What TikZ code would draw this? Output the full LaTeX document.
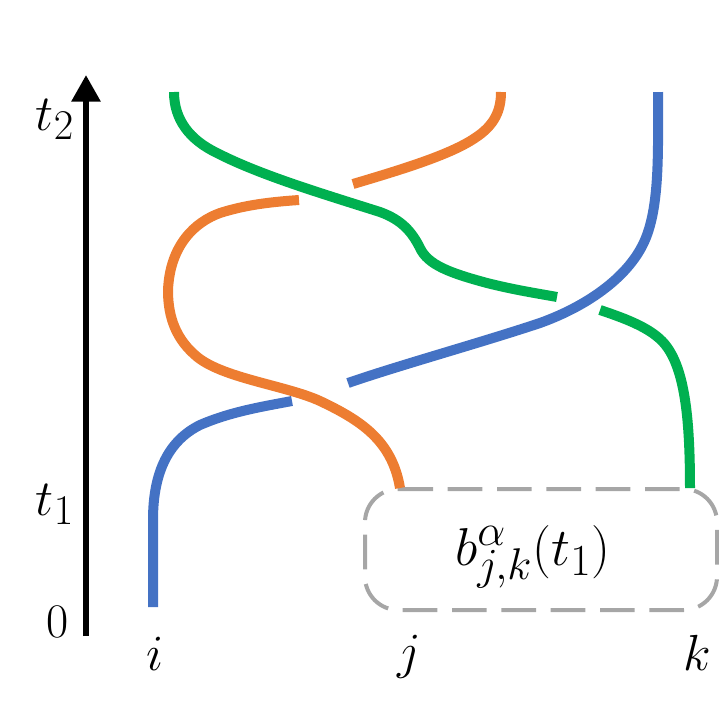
\documentclass[tikz,border=0pt]{standalone}
\usetikzlibrary{arrows.meta}

\definecolor{blueI}{RGB}{68,114,196}
\definecolor{orangeJ}{RGB}{237,125,49}
\definecolor{greenK}{RGB}{0,176,80}
\definecolor{boxGray}{RGB}{166,166,166}

\tikzset{every picture/.style={line width=0.75pt}}
\tikzset{
  strand/.style={line width=7.5pt},
  lab/.style={font=\Huge, scale=1.53, anchor=base, inner sep=0pt},
}

\begin{document}
\begin{tikzpicture}[x=0.75pt,y=0.75pt,yscale=-1,xscale=1]
	\useasboundingbox (0,0) rectangle (719,704);
	
	%Time axis
	\coordinate (axisBot) at (86,636);
	\coordinate (axisTop) at (86,75);
	\draw [line width=4.5pt, -{Triangle[length=20pt,width=21pt]}] (axisBot) -- (axisTop) ;
	
	%Dashed box
	\draw [boxGray, line width=3pt, dash pattern=on 26pt off 11pt, rounded corners=25] (365,489) -- (717,489) -- (717,610) -- (365,610) -- cycle ;
	
	%Curve Lines: strand i
	\draw [blueI, strand] (153,607) -- (153,520) .. controls (153,470) and (170,440) .. (200,425) .. controls (230,412) and (260,407) .. (292,401) ;
	\draw [blueI, strand] (348,383) .. controls (400,365) and (480,343) .. (540,323) .. controls (590,305) and (630,275) .. (645,240) .. controls (660,205) and (658,150) .. (658,92) ;
	
	%Curve Lines: strand j
	\draw [orangeJ, strand] (400,488) .. controls (392,440) and (360,420) .. (320,401) .. controls (285,385) and (220,378) .. (195,355) .. controls (172,335) and (168,310) .. (168,290) .. controls (170,245) and (195,222) .. (220,213) .. controls (245,205) and (270,202) .. (299,200) ;
	\draw [orangeJ, strand] (353,184) .. controls (400,170) and (450,155) .. (475,138) .. controls (495,125) and (501,110) .. (501,92) ;
	
	%Curve Lines: strand k
	\draw [greenK, strand] (690,488) .. controls (690,420) and (685,372) .. (667,347) .. controls (655,330) and (630,320) .. (600,310) ;
	\draw [greenK, strand] (557,297) .. controls (535,293) and (515,290) .. (487,283) .. controls (450,273) and (428,265) .. (420,248) .. controls (412,232) and (402,220) .. (380,212) .. controls (320,193) and (260,175) .. (217,153) .. controls (190,140) and (174,120) .. (174,92) ;
	
	% Text Node
	\node [lab] (tTwo) at (55,130) {$t_2$};
	% Text Node
	\node [lab] (tOne) at (55,515) {$t_1$};
	% Text Node
	\node [lab, scale=0.95] (zero) at (58,637) {0};
	% Text Node
	\node [lab] (labI) at (155,670) {$i$};
	% Text Node
	\node [lab] (labJ) at (409,668) {$j$};
	% Text Node
	\node [lab] (labK) at (697,670) {$k$};
	% Text Node
	\node [lab, scale=1.05] (bLabel) at (533,565) {$b^{\alpha}_{j,k}(t_1)$};
	
\end{tikzpicture}
\end{document}
